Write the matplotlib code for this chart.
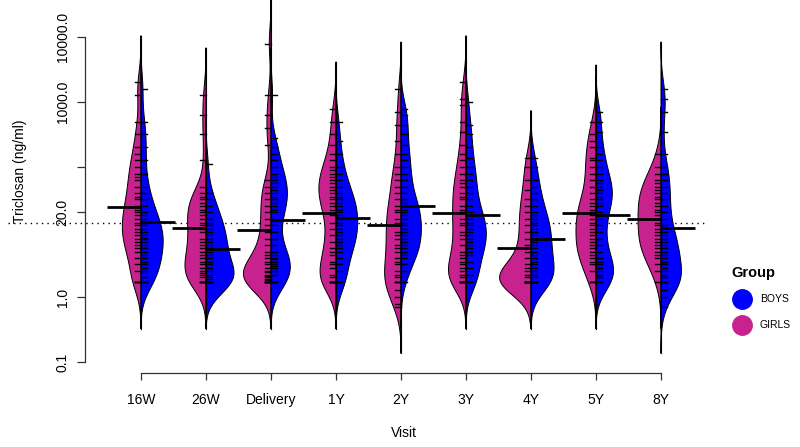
import numpy as np
import matplotlib.pyplot as plt

visits = ["16W", "26W", "Delivery", "1Y", "2Y", "3Y", "4Y", "5Y", "8Y"]

# triclosan (ng/ml) per visit
girls_16w = [1.7, 1.7, 1.7, 2.5, 3.2, 4.0, 5.0, 5.6, 6.3, 7.1, 7.9, 8.9, 10, 11, 13, 14, 16, 18,
             20, 22, 25, 32, 35, 40, 50, 63, 71, 79, 100, 130, 160, 200, 320, 500, 1300, 2000]
boys_16w = [1.7, 1.7, 1.7, 2.0, 2.5, 2.8, 3.2, 3.5, 4.0, 4.5, 5.0, 5.6, 6.3, 7.1, 7.9, 8.2, 8.9,
            10, 11, 13, 14, 16, 18, 20, 25, 32, 40, 50, 79, 130, 200, 320, 500, 1600]
girls_26w = [1.7, 1.7, 1.7, 1.7, 2.0, 2.2, 2.3, 2.5, 2.8, 3.2, 3.5, 4.0, 4.5, 5.0, 5.6, 6.3, 7.1,
             7.9, 10, 11, 13, 14, 16, 18, 20, 22, 25, 28, 32, 35, 40, 50, 130, 320, 630, 1300]
boys_26w = [1.7, 1.7, 1.7, 1.7, 1.7, 1.7, 1.7, 1.7, 1.9, 2.0, 2.2, 2.5, 2.8, 3.2, 3.5, 4.0, 4.5,
            5.0, 5.6, 6.3, 7.1, 7.9, 8.9, 10, 11, 13, 14, 16, 20, 25, 32, 40, 110]
girls_del = [1.7, 1.7, 1.7, 1.7, 1.7, 1.7, 1.8, 1.9, 2.0, 2.1, 2.2, 2.4, 2.5, 2.8, 3.2, 3.5, 4.0,
             4.5, 5.0, 6.3, 7.9, 10, 13, 16, 20, 25, 32, 40, 50, 63, 220, 400, 630, 1300, 7900]
boys_del = [1.7, 1.7, 1.7, 1.7, 1.7, 2.2, 2.5, 2.8, 3.0, 3.2, 3.5, 3.8, 4.0, 4.5, 5.0, 6.3, 7.9,
            10, 13, 16, 20, 22, 25, 28, 32, 35, 40, 45, 50, 56, 63, 71, 79, 100, 130, 160, 200,
            280, 1300]
girls_1y = [1.7, 1.7, 1.7, 1.7, 1.7, 2.0, 2.2, 2.8, 3.2, 3.5, 4.5, 5.0, 5.6, 7.1, 8.9, 11, 14, 18,
            22, 25, 28, 32, 35, 40, 45, 50, 56, 63, 71, 79, 89, 100, 130, 160, 220, 320, 500, 790]
boys_1y = [1.7, 1.7, 1.7, 2.5, 3.2, 4.0, 5.0, 5.6, 6.3, 7.1, 7.9, 8.9, 10, 11, 13, 14, 16, 18, 20,
           22, 25, 28, 32, 35, 40, 50, 63, 79, 100, 160, 250, 500]
girls_2y = [0.71, 0.79, 1.0, 1.3, 1.7, 1.7, 1.7, 2.0, 2.2, 2.5, 3.2, 3.5, 4.0, 5.0, 5.6, 6.3, 7.9,
            8.9, 10, 13, 14, 16, 20, 22, 25, 32, 40, 50, 63, 79, 100, 160, 250, 450, 710, 1600]
boys_2y = [1.7, 2.5, 3.2, 4.0, 4.5, 5.0, 5.6, 6.3, 7.1, 7.9, 8.9, 10, 11, 13, 14, 16, 18, 20, 22,
           25, 28, 32, 40, 50, 63, 79, 100, 130, 160, 220, 320, 450, 630, 790]
girls_3y = [1.7, 1.7, 1.7, 1.7, 1.7, 2.0, 2.2, 2.5, 2.8, 3.2, 3.5, 4.0, 4.5, 5.0, 6.3, 7.9, 8.9,
            10, 13, 14, 16, 20, 22, 25, 32, 35, 40, 50, 56, 63, 79, 100, 130, 160, 220, 350, 500,
            890, 1100, 2000]
boys_3y = [1.7, 1.7, 1.7, 2.2, 2.8, 3.5, 4.5, 5.0, 5.6, 6.3, 7.1, 7.9, 8.9, 10, 11, 13, 14, 16, 18,
           20, 25, 32, 40, 50, 63, 79, 100, 140, 200, 320, 450, 1000]
girls_4y = [1.7, 1.7, 1.7, 1.7, 1.7, 1.7, 1.7, 1.7, 1.7, 1.7, 1.7, 2.0, 2.2, 2.5, 2.8, 3.2, 4.0,
            5.0, 6.3, 7.9, 10, 13, 16, 20, 25, 32, 45, 63, 100, 140]
boys_4y = [1.7, 1.7, 1.7, 1.7, 1.7, 1.7, 2.0, 2.2, 2.5, 2.8, 3.2, 3.5, 4.0, 4.5, 5.0, 5.6, 6.3,
           7.1, 7.9, 8.9, 10, 11, 13, 14, 16, 18, 20, 25, 32, 40, 50, 63, 100, 140]
girls_5y = [1.7, 1.7, 2.5, 3.2, 3.5, 4.0, 4.5, 5.0, 5.6, 6.3, 7.1, 7.9, 8.9, 10, 11, 13, 14, 16,
            18, 20, 22, 25, 28, 32, 40, 50, 63, 79, 100, 130, 140, 200, 250, 320, 500]
boys_5y = [1.7, 1.7, 1.7, 1.7, 2.0, 2.2, 2.5, 2.8, 3.2, 3.5, 4.0, 5.0, 6.3, 7.9, 10, 13, 16, 20,
           25, 28, 32, 35, 40, 45, 50, 56, 63, 79, 100, 130, 160, 200, 350, 500, 710]
girls_8y = [1.7, 2.5, 3.2, 4.0, 4.5, 5.0, 5.6, 6.3, 7.1, 7.9, 8.9, 10, 11, 13, 14, 16, 18, 20, 22,
            25, 28, 32, 35, 40, 45, 50, 56, 63, 79, 100, 160]
boys_8y = [0.71, 1.0, 1.3, 1.7, 1.7, 1.7, 1.7, 1.7, 2.0, 2.2, 2.5, 2.8, 3.2, 3.5, 4.0, 4.5, 5.0,
           5.6, 6.3, 7.1, 7.9, 8.9, 10, 13, 16, 20, 25, 32, 40, 50, 63, 79, 100, 160, 350, 710,
           1100, 1600]

girls = [girls_16w, girls_26w, girls_del, girls_1y, girls_2y, girls_3y, girls_4y, girls_5y, girls_8y]
boys = [boys_16w, boys_26w, boys_del, boys_1y, boys_2y, boys_3y, boys_4y, boys_5y, boys_8y]

ytick_vals = [0.1, 1, 20, 100, 1000, 10000]
ytick_labels = ["0.1", "1.0", "20.0", "", "1000.0", "10000.0"]

pink = "#C8228F"
blue = "#0000FF"
bw = 0.24      # bandwidth on log10 scale
scale = 0.55   # density -> half-bean width in x units


def kde(vals):
    lv = np.log10(vals)
    grid = np.linspace(lv.min() - 3 * bw, lv.max() + 3 * bw, 300)
    z = (grid[:, None] - lv[None, :]) / bw
    d = np.exp(-0.5 * z ** 2).sum(axis=1) / (len(lv) * bw * np.sqrt(2 * np.pi))
    return grid, d


plt.rcParams["font.family"] = ["Liberation Sans", "DejaVu Sans"]

fig = plt.figure(figsize=(8, 4.47), dpi=100)
ax = fig.add_axes([85 / 800, 85 / 447, 620 / 800, 325 / 447])
ax.set_yscale("log")
ax.set_xlim(0.1385, 9.677)
ax.set_ylim(0.1, 10000)

for i in range(len(visits)):
    pos = i + 1
    lo, hi = 99, -99
    for vals, col, sgn in [(girls[i], pink, -1), (boys[i], blue, 1)]:
        grid, d = kde(np.array(vals))
        xs = np.concatenate([pos + sgn * d * scale, [pos, pos]])
        ys = np.concatenate([grid, [grid[-1], grid[0]]])
        ax.fill(xs, 10 ** ys, facecolor=col, edgecolor="black", lw=0.7, clip_on=False, zorder=2)
        lo, hi = min(lo, grid[0]), max(hi, grid[-1])
    ax.plot([pos, pos], [10 ** lo, 10 ** hi], color="black", lw=0.8, clip_on=False, zorder=3)

    for vals, sgn in [(girls[i], -1), (boys[i], 1)]:
        for v in vals:
            ax.plot([pos, pos + sgn * 0.09], [v, v], color="black", lw=1.0, zorder=4)
        gm = 10 ** np.mean(np.log10(vals))
        ax.plot([pos, pos + sgn * 0.52], [gm, gm], color="black", lw=2.0, zorder=5,
                solid_capstyle="butt", clip_on=False)

overall = 10 ** np.mean([np.mean(np.log10(v)) for v in girls + boys])
ax.plot([-0.124, 1], [overall, overall], transform=ax.get_yaxis_transform(),
        color="black", lw=1.0, ls=(0, (1, 3)), clip_on=False, zorder=1)

for s in ["top", "right"]:
    ax.spines[s].set_visible(False)
ax.spines["left"].set_bounds(0.1, 10000)
ax.spines["bottom"].set_position(("outward", 8))
ax.spines["bottom"].set_bounds(1, 9)
for s in ["left", "bottom"]:
    ax.spines[s].set_color("#333333")
    ax.spines[s].set_linewidth(0.9)

ax.set_xticks(range(1, len(visits) + 1))
ax.set_xticklabels(visits)
ax.set_yticks(ytick_vals)
ax.set_yticklabels(ytick_labels, rotation=90, va="center")
ax.yaxis.set_minor_locator(plt.NullLocator())
ax.tick_params(axis="x", length=5, width=0.9, color="#333333", pad=9, labelsize=10)
ax.tick_params(axis="y", length=6, width=0.9, color="#333333", pad=5, labelsize=10)

fig.text(404 / 800, 1 - 433 / 447, "Visit", ha="center", va="center", fontsize=10)
fig.text(20 / 800, 1 - 171 / 447, "Triclosan (ng/ml)", rotation=90,
         ha="center", va="center", fontsize=10)

# legend
fig.text(731 / 800, 1 - 273 / 447, "Group", fontsize=10.5, fontweight="bold", va="center")
for yy, col, lab in [(299, blue, "BOYS"), (325, pink, "GIRLS")]:
    ax.plot([742 / 800], [1 - yy / 447], "o", ms=14, color=col, transform=fig.transFigure,
            clip_on=False)
    fig.text(760 / 800, 1 - yy / 447, lab, fontsize=7.5, va="center")

fig.savefig("out.png", dpi=100)
